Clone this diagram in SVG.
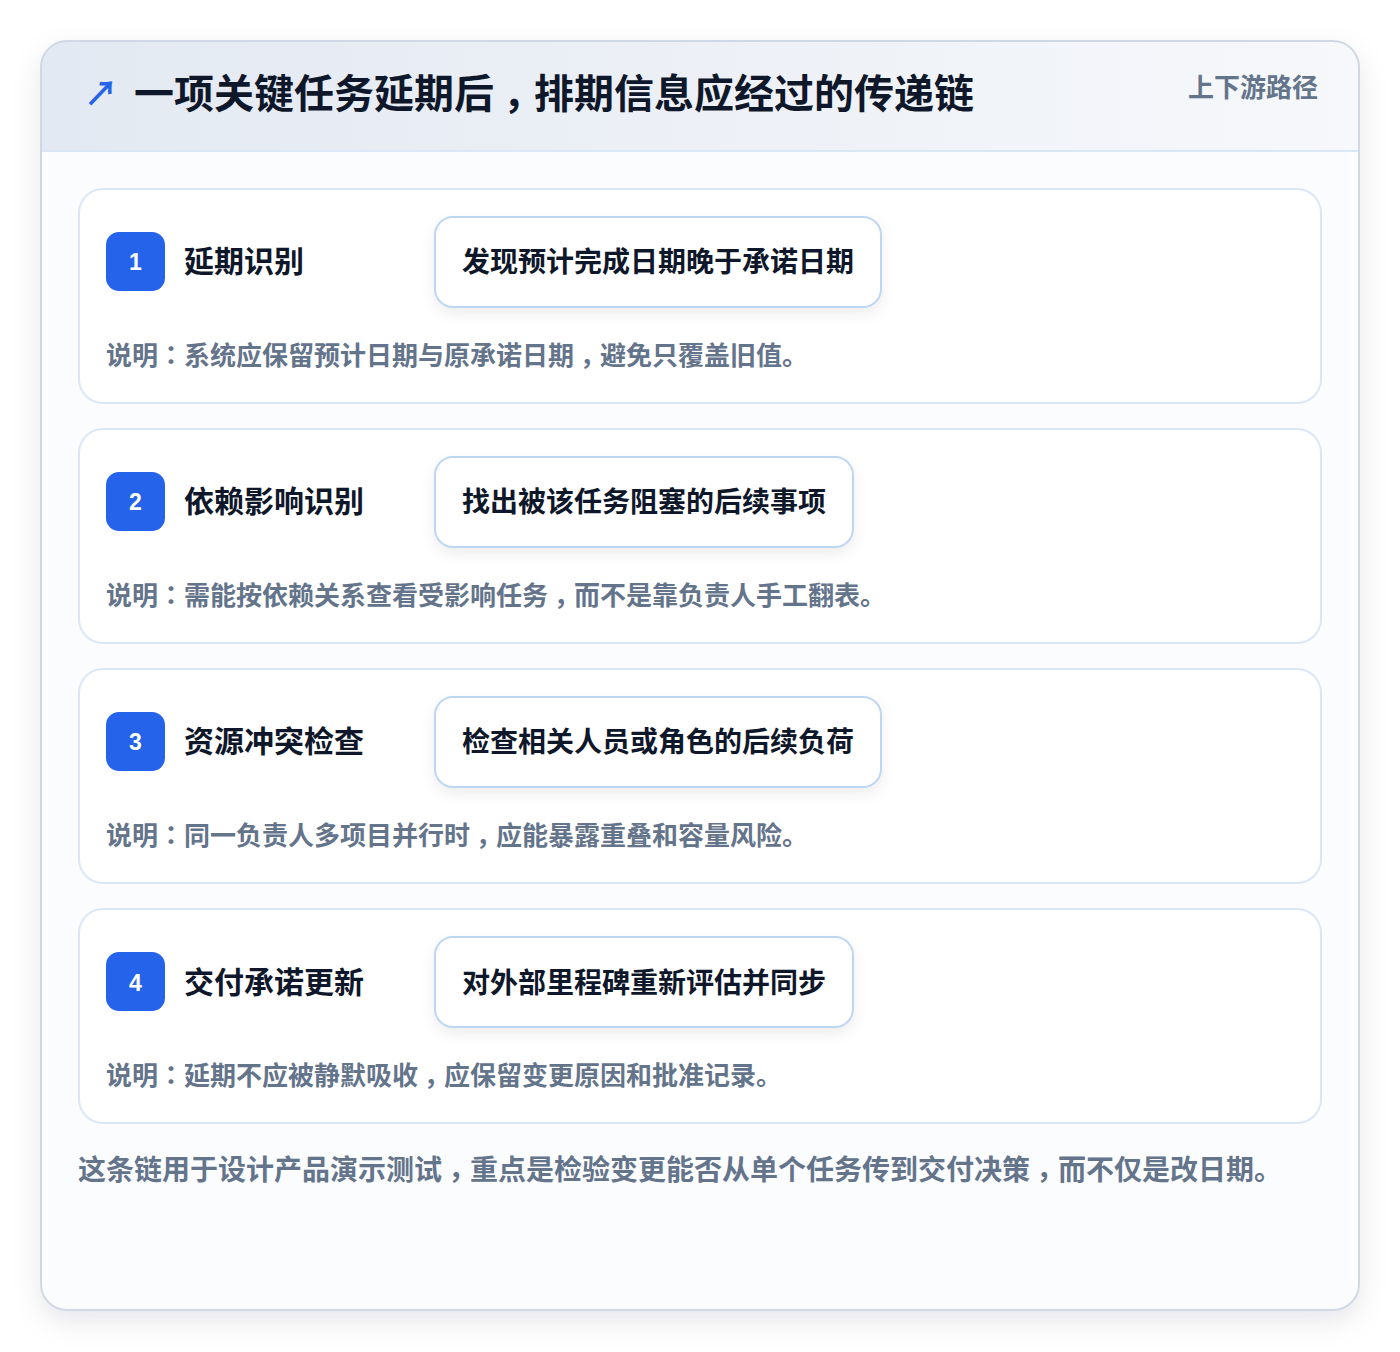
<svg xmlns="http://www.w3.org/2000/svg" width="1400" height="1352" viewBox="0 0 1400 1352">
<defs>
<linearGradient id="hdr" x1="0" y1="0" x2="1" y2="0">
<stop offset="0" stop-color="#e3e9f2"/>
<stop offset="1" stop-color="#f6f8fb"/>
</linearGradient>
<filter id="outerShadow" x="-10%" y="-10%" width="120%" height="120%">
<feDropShadow dx="0" dy="10" stdDeviation="14" flood-color="#0f172a" flood-opacity="0.10"/>
</filter>
<filter id="pillShadow" x="-10%" y="-20%" width="120%" height="150%">
<feDropShadow dx="0" dy="6" stdDeviation="7" flood-color="#0f172a" flood-opacity="0.07"/>
</filter>
<clipPath id="cardClip"><rect x="41" y="41" width="1318" height="1269" rx="26"/></clipPath>
</defs>
<style>
text{font-family:"Noto Sans CJK SC",sans-serif}
.p{font-family:"Noto Sans CJK TC","Noto Sans CJK SC",sans-serif}
.title{font-size:40px;font-weight:700;fill:#0f172a}
.tag{font-size:26px;font-weight:700;fill:#64748b}
.card{fill:#ffffff;stroke:#dbe7f7;stroke-width:2}
.badge{fill:#2563eb}
.num{font-family:"Liberation Sans","Noto Sans",sans-serif;font-size:23px;font-weight:700;fill:#ffffff}
.label{font-size:30px;font-weight:700;fill:#0f172a}
.pill{fill:#ffffff;stroke:#bfd6f3;stroke-width:2}
.pilltext{font-size:28px;font-weight:700;fill:#0f172a}
.desc{font-size:26px;font-weight:600;fill:#64748b}
.foot{font-size:28px;font-weight:600;fill:#64748b}
</style>
<rect width="1400" height="1352" fill="#ffffff"/>
<g id="frame">
<rect x="41" y="41" width="1318" height="1269" rx="26" fill="#fbfcfe" filter="url(#outerShadow)"/>
<g clip-path="url(#cardClip)">
<rect x="41" y="41" width="1318" height="110" fill="url(#hdr)"/>
<line x1="41" y1="151" x2="1359" y2="151" stroke="#dbe7f5" stroke-width="2"/>
</g>
<rect x="41" y="41" width="1318" height="1269" rx="26" fill="none" stroke="#cfd8e4" stroke-width="2"/>
</g>
<g id="header">
<text x="84" y="106" font-family="DejaVu Sans,sans-serif" font-size="34" font-weight="700" fill="#2563eb">↗</text>
<text class="title" x="134" y="108">一项关键任务延期后<tspan class="p" dy="0.3em">，</tspan><tspan dy="-0.3em">排期信息应经过的传递链</tspan></text>
<text class="tag" x="1318" y="97" text-anchor="end">上下游路径</text>
</g>
<g id="connectors"></g>
<g id="step1">
<rect class="card" x="79" y="189" width="1242" height="214" rx="24"/>
<rect class="badge" x="106" y="232" width="59" height="59" rx="13"/>
<text class="num" x="135.5" y="270" text-anchor="middle">1</text>
<text class="label" x="184" y="272">延期识别</text>
<rect class="pill" x="435" y="217" width="446" height="90" rx="18" filter="url(#pillShadow)"/>
<text class="pilltext" x="658" y="272" text-anchor="middle">发现预计完成日期晚于承诺日期</text>
<text class="desc" x="106" y="365">说明<tspan class="p">：</tspan>系统应保留预计日期与原承诺日期<tspan class="p" dy="0.3em">，</tspan><tspan dy="-0.3em">避免只覆盖旧值。</tspan></text>
</g>
<g id="step2">
<rect class="card" x="79" y="429" width="1242" height="214" rx="24"/>
<rect class="badge" x="106" y="472" width="59" height="59" rx="13"/>
<text class="num" x="135.5" y="510" text-anchor="middle">2</text>
<text class="label" x="184" y="512">依赖影响识别</text>
<rect class="pill" x="435" y="457" width="418" height="90" rx="18" filter="url(#pillShadow)"/>
<text class="pilltext" x="644" y="512" text-anchor="middle">找出被该任务阻塞的后续事项</text>
<text class="desc" x="106" y="605">说明<tspan class="p">：</tspan>需能按依赖关系查看受影响任务<tspan class="p" dy="0.3em">，</tspan><tspan dy="-0.3em">而不是靠负责人手工翻表。</tspan></text>
</g>
<g id="step3">
<rect class="card" x="79" y="669" width="1242" height="214" rx="24"/>
<rect class="badge" x="106" y="712" width="59" height="59" rx="13"/>
<text class="num" x="135.5" y="750" text-anchor="middle">3</text>
<text class="label" x="184" y="752">资源冲突检查</text>
<rect class="pill" x="435" y="697" width="446" height="90" rx="18" filter="url(#pillShadow)"/>
<text class="pilltext" x="658" y="752" text-anchor="middle">检查相关人员或角色的后续负荷</text>
<text class="desc" x="106" y="845">说明<tspan class="p">：</tspan>同一负责人多项目并行时<tspan class="p" dy="0.3em">，</tspan><tspan dy="-0.3em">应能暴露重叠和容量风险。</tspan></text>
</g>
<g id="step4">
<rect class="card" x="79" y="909" width="1242" height="214" rx="24"/>
<rect class="badge" x="106" y="952" width="59" height="59" rx="13"/>
<text class="num" x="135.5" y="991" text-anchor="middle">4</text>
<text class="label" x="184" y="993">交付承诺更新</text>
<rect class="pill" x="435" y="937" width="418" height="90" rx="18" filter="url(#pillShadow)"/>
<text class="pilltext" x="644" y="993" text-anchor="middle">对外部里程碑重新评估并同步</text>
<text class="desc" x="106" y="1085">说明<tspan class="p">：</tspan>延期不应被静默吸收<tspan class="p" dy="0.3em">，</tspan><tspan dy="-0.3em">应保留变更原因和批准记录。</tspan></text>
</g>
<g id="footer">
<text class="foot" x="78" y="1180">这条链用于设计产品演示测试<tspan class="p" dy="0.3em">，</tspan><tspan dy="-0.3em">重点是检验变更能否从单个任务传到交付决策</tspan><tspan class="p" dy="0.3em">，</tspan><tspan dy="-0.3em">而不仅是改日期。</tspan></text>
</g>
</svg>
